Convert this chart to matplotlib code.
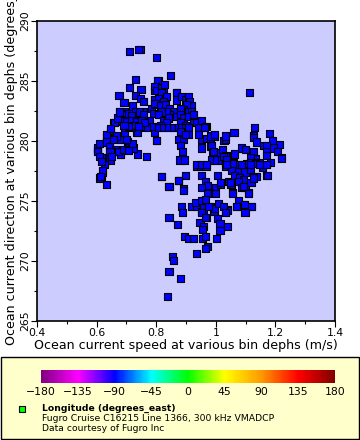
import matplotlib
matplotlib.use("Agg")
import matplotlib.pyplot as plt
from matplotlib.colors import LinearSegmentedColormap, Normalize
from matplotlib.patches import Rectangle
import matplotlib.cm as cm

# speed (m/s), direction (degrees) pairs
points = [
    # left arm
    (0.602, 279.3), (0.602, 279.1), (0.609, 276.9), (0.615, 277.0), (0.634, 276.4),
    (0.619, 277.4), (0.619, 278.6), (0.626, 278.1), (0.645, 278.4), (0.615, 278.6),
    (0.625, 278.0), (0.619, 277.5), (0.614, 277.0), (0.604, 279.4), (0.604, 279.1),
    (0.634, 280.3), (0.634, 279.9), (0.642, 279.7), (0.659, 279.1), (0.679, 278.9),
    (0.659, 280.2), (0.679, 280.1), (0.693, 280.6), (0.704, 279.9), (0.706, 279.4),
    (0.721, 279.4), (0.738, 278.9), (0.766, 278.7), (0.740, 281.1), (0.735, 280.7),
    (0.793, 281.2), (0.793, 280.7), (0.802, 280.0), (0.645, 278.9), (0.647, 280.8),
    (0.632, 280.4), (0.647, 280.9), (0.656, 281.5), (0.656, 279.1), (0.681, 278.9),
    (0.723, 279.4), (0.738, 280.7), (0.634, 280.5), (0.611, 279.8), (0.632, 279.9),
    (0.643, 279.5), (0.662, 279.3), (0.673, 279.1), (0.692, 279.3), (0.706, 279.2),
    (0.721, 279.8), (0.679, 280.1), (0.699, 280.1), (0.667, 280.4), (0.656, 280.1),
    (0.645, 279.1), (0.611, 278.7), (0.617, 278.3), (0.651, 278.7),
    # top cluster
    (0.709, 287.4), (0.746, 287.6), (0.740, 287.6), (0.802, 286.9), (0.849, 285.4),
    (0.731, 285.1), (0.806, 285.0), (0.709, 284.4), (0.749, 284.3), (0.797, 284.5),
    (0.824, 284.3), (0.675, 283.8), (0.729, 283.8), (0.746, 283.5), (0.757, 283.3),
    (0.692, 283.2), (0.721, 282.9), (0.869, 284.0),
    (0.676, 282.4), (0.695, 282.4), (0.712, 282.2), (0.729, 282.4), (0.746, 282.3),
    (0.757, 282.4), (0.679, 281.6), (0.693, 281.3), (0.712, 281.5), (0.729, 281.6),
    (0.740, 281.7), (0.757, 281.8), (0.768, 281.6), (0.779, 281.7), (0.785, 282.7),
    (0.790, 282.3), (0.796, 283.4), (0.796, 283.0), (0.796, 284.2), (0.802, 284.5),
    (0.805, 285.0), (0.785, 281.2), (0.768, 281.1), (0.746, 281.2), (0.718, 281.1),
    (0.695, 281.1), (0.659, 281.5), (0.647, 281.0),
    (0.679, 282.3), (0.690, 282.2), (0.706, 282.3), (0.718, 282.1), (0.743, 282.4),
    (0.757, 282.2), (0.684, 281.7), (0.701, 281.6), (0.718, 281.7), (0.735, 281.6),
    (0.751, 281.7), (0.762, 281.5), (0.723, 281.3), (0.740, 281.2), (0.706, 281.2),
    (0.692, 281.3), (0.669, 281.9), (0.676, 282.4),
    (0.796, 284.5), (0.802, 284.2), (0.818, 284.4), (0.827, 284.7), (0.818, 284.0),
    (0.835, 283.7), (0.807, 283.5), (0.824, 283.3), (0.796, 283.1), (0.813, 282.9),
    (0.830, 283.0), (0.846, 282.7), (0.857, 282.4), (0.869, 284.0), (0.869, 283.4),
    (0.886, 283.7), (0.897, 283.4), (0.908, 283.7), (0.913, 283.3), (0.919, 282.9),
    (0.902, 283.0), (0.891, 282.6), (0.880, 282.7), (0.863, 282.0), (0.846, 282.2),
    (0.835, 282.4), (0.818, 282.4), (0.807, 282.2), (0.824, 281.7), (0.841, 281.9),
    (0.835, 281.5), (0.813, 281.3), (0.880, 282.2), (0.891, 281.9), (0.908, 282.4),
    (0.919, 282.4), (0.908, 282.0), (0.925, 282.2), (0.880, 281.5), (0.897, 281.3),
    (0.886, 281.1), (0.908, 281.1), (0.925, 281.5), (0.936, 281.5), (0.953, 281.7),
    (0.969, 281.2), (0.953, 281.1), (0.964, 281.2),
    # central column
    (0.807, 281.1), (0.824, 281.1), (0.841, 281.1), (0.857, 281.1), (0.874, 281.1),
    (0.886, 281.1), (0.897, 281.1), (0.908, 281.1), (0.941, 281.1), (0.961, 281.1),
    (0.802, 280.0), (0.874, 280.1), (0.891, 280.1), (0.908, 280.5), (0.953, 280.1),
    (0.969, 280.2), (0.997, 280.4), (1.029, 280.0), (0.880, 280.8), (0.897, 280.5),
    (0.981, 279.8), (0.883, 279.6), (0.889, 279.1), (0.953, 279.4), (0.983, 279.5),
    (0.988, 279.1), (1.005, 279.0), (1.023, 279.3), (1.031, 278.8), (0.877, 278.4),
    (0.894, 278.4), (0.936, 277.9), (0.950, 277.9), (0.967, 277.9), (0.986, 278.4),
    (1.003, 278.4), (1.020, 278.4), (1.033, 277.9), (1.042, 278.1), (0.875, 276.7),
    (0.893, 276.0), (0.951, 277.1), (0.966, 276.6), (0.973, 276.3), (0.953, 276.1),
    (0.973, 275.6), (1.000, 276.1), (1.000, 275.6), (1.006, 277.1), (1.017, 276.4),
    (1.042, 276.6), (0.941, 280.5), (0.981, 280.4), (0.997, 280.5), (1.025, 280.0),
    (0.986, 279.6), (0.992, 279.1), (1.025, 278.7), (1.059, 278.8), (0.936, 278.0),
    (0.953, 278.0), (0.969, 278.0), (1.031, 278.0), (0.897, 277.1), (0.891, 275.9),
    (1.016, 276.5), (1.051, 276.4), (0.818, 277.0), (0.843, 276.2), (0.874, 276.7),
    # right lobe
    (1.114, 284.0), (1.131, 281.1), (1.061, 280.7), (1.181, 280.6), (1.128, 280.4),
    (1.127, 280.3), (1.135, 279.9), (1.191, 280.0), (1.213, 279.7), (1.161, 279.6),
    (1.171, 279.6), (1.195, 279.4), (1.207, 279.1), (1.221, 278.6), (1.221, 278.5),
    (1.171, 279.1), (1.171, 278.8), (1.085, 279.4), (1.100, 279.3), (1.062, 278.9),
    (1.126, 279.1), (1.132, 278.5), (1.117, 278.6), (1.185, 278.2), (1.171, 278.0),
    (1.158, 277.8), (1.146, 278.2), (1.031, 280.1), (1.031, 280.4), (1.037, 278.4),
    (1.059, 278.1), (1.081, 278.0), (1.104, 278.1), (1.118, 278.2), (1.132, 278.1),
    (1.053, 277.5), (1.076, 277.4), (1.098, 277.4), (1.115, 277.6), (1.064, 277.1),
    (1.078, 276.9), (1.092, 276.8), (1.048, 276.5), (1.076, 276.6), (1.087, 276.1),
    (1.101, 276.1), (1.118, 276.5), (1.134, 277.0), (1.110, 275.7), (1.057, 275.7),
    (1.077, 275.0), (1.095, 274.7), (1.070, 274.5), (1.121, 274.5), (1.040, 274.3),
    (1.170, 277.1), (1.174, 277.1), (1.087, 278.0), (1.115, 278.0), (1.148, 278.0),
    (1.171, 278.0), (1.137, 277.0), (1.125, 276.9), (1.094, 276.2), (1.111, 275.6),
    (1.057, 275.6), (1.037, 278.0),
    # lower tail
    (0.886, 274.5), (0.889, 274.0), (0.917, 274.5), (0.936, 274.5), (0.953, 274.1),
    (0.960, 274.1), (0.994, 274.1), (0.983, 274.5), (0.997, 274.4), (1.033, 274.1),
    (1.040, 274.2), (1.070, 274.5), (1.095, 274.7), (1.120, 274.5), (1.098, 274.0),
    (0.967, 273.6), (0.947, 273.2), (1.007, 273.5), (0.960, 272.9), (0.956, 272.6),
    (1.014, 273.1), (1.014, 272.5), (1.040, 272.9), (0.894, 272.0), (0.908, 271.9),
    (0.926, 271.9), (0.956, 271.9), (0.964, 272.0), (1.003, 271.9), (0.973, 271.2),
    (0.966, 271.0), (0.936, 270.6), (0.958, 274.6), (0.975, 274.5), (1.008, 274.8),
    (1.025, 274.5), (0.933, 274.9), (0.953, 275.0), (0.964, 275.1), (1.034, 274.0),
    (0.953, 274.0), (0.966, 273.6), (0.843, 273.6), (0.872, 273.0), (0.855, 270.4),
    (0.859, 270.0), (0.843, 269.1), (0.880, 268.5), (0.839, 267.0), (0.818, 277.0),
    (0.843, 276.2), (0.874, 276.7),
]

speed = [p[0] for p in points]
direction = [p[1] for p in points]
LONGITUDE = -89.6

x_ticks = [0.4, 0.6, 0.8, 1.0, 1.2, 1.4]
x_ticklabels = ["0.4", "0.6", "0.8", "1", "1.2", "1.4"]
y_ticks = [265, 270, 275, 280, 285, 290]
cbar_ticks = [-180, -135, -90, -45, 0, 45, 90, 135, 180]

cmap = LinearSegmentedColormap.from_list(
    "rainbow2",
    ["#800080", "#ff00ff", "#0000ff", "#00ffff", "#00ff00",
     "#ffff00", "#ff9900", "#ff0000", "#800000"])
norm = Normalize(-180, 180)

fig = plt.figure(figsize=(3.6, 4.4), dpi=100)
ax = fig.add_axes([0.1028, 0.2705, 0.8278, 0.6825])
ax.set_facecolor("#ccccff")
ax.scatter(speed, direction, c=[LONGITUDE] * len(speed), cmap=cmap, norm=norm,
           marker="s", s=26, edgecolors="black", linewidths=0.8, zorder=3)
ax.set_xlim(0.4, 1.4)
ax.set_ylim(265, 290)
ax.set_xticks(x_ticks)
ax.set_xticklabels(x_ticklabels)
ax.set_xticks([0.5, 0.7, 0.9, 1.1, 1.3], minor=True)
ax.set_yticks(y_ticks)
ax.set_yticks([267.5, 272.5, 277.5, 282.5, 287.5], minor=True)
ax.tick_params(labelsize=7.8, length=4, width=0.8, pad=1)
ax.tick_params(which="minor", length=2.5, width=0.8)
for lab in ax.get_yticklabels():
    lab.set_rotation(90)
    lab.set_va("center")
for s in ax.spines.values():
    s.set_linewidth(1.2)
ax.set_xlabel("Ocean current speed at various bin dephs (m/s)", fontsize=9.1, labelpad=1)
# the reference draws the y label starting low and lets the end run off the top
fig.text(12 / 360, 1 - 345 / 440,
         "Ocean current direction at various bin dephs (degrees_true)",
         fontsize=9.1, rotation=90, rotation_mode="anchor", ha="left", va="center")

# legend area
fig.add_artist(Rectangle((1 / 360, 1 / 440), 358 / 360, 82 / 440,
                         transform=fig.transFigure, facecolor="#ffffcc",
                         edgecolor="black", linewidth=1, zorder=-5))
cax = fig.add_axes([0.1139, 0.1295, 0.8167, 0.0295])
cb = fig.colorbar(cm.ScalarMappable(norm=norm, cmap=cmap), cax=cax,
                  orientation="horizontal")
cb.outline.set_visible(False)
cb.set_ticks(cbar_ticks)
cax.tick_params(labelsize=7.8, length=0, pad=3)

fig.add_artist(Rectangle((19 / 360, 1 - 412 / 440), 6 / 360, 6 / 440,
                         transform=fig.transFigure, facecolor="#00ff00",
                         edgecolor="black", linewidth=0.8))
fig.text(42 / 360, 1 - 408.5 / 440, "Longitude (degrees_east)", fontsize=6.7,
         fontweight="bold", va="center")
fig.text(42 / 360, 1 - 418.3 / 440, "Fugro Cruise C16215 Line 1366, 300 kHz VMADCP",
         fontsize=6.7, va="center")
fig.text(42 / 360, 1 - 428 / 440, "Data courtesy of Fugro Inc", fontsize=6.7,
         va="center")

fig.savefig("out.png", dpi=100)
